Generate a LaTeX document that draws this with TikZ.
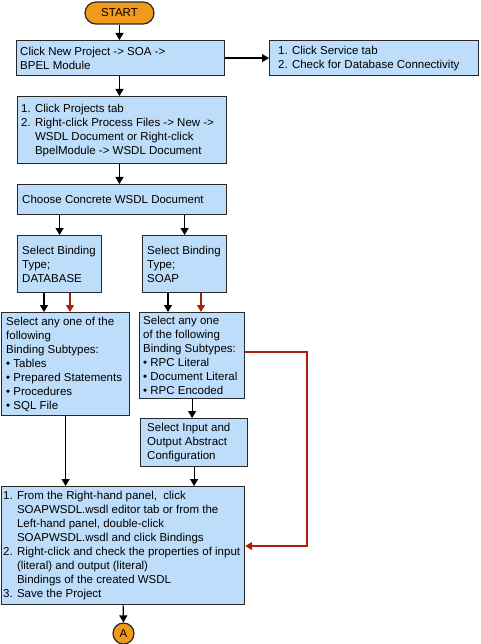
\documentclass[tikz,border=0pt]{standalone}
\usepackage{fontspec}
\setmainfont{Liberation Sans}
\usetikzlibrary{arrows.meta,calc}
\definecolor{boxblue}{RGB}{190,221,250}
\definecolor{startorange}{RGB}{242,153,26}
\definecolor{flowred}{RGB}{170,32,16}
\definecolor{edge}{RGB}{40,40,40}
\tikzset{
  boxnode/.style={draw=edge, fill=boxblue, line width=1.2pt, anchor=north west, inner sep=0pt},
  txt/.style={anchor=west, align=left, inner sep=0pt, font=\fontsize{11.5}{14}\selectfont},
  arr/.style={line width=1.2pt, draw=black, -{Triangle[length=7pt,width=8pt]}},
  redarr/.style={line width=1.2pt, draw=flowred, -{Triangle[length=7pt,width=8pt]}},
}
\newcommand{\ind}{\hphantom{2. }}
\begin{document}
\begin{tikzpicture}[x=1pt,y=-1pt]
\useasboundingbox (0,0) rectangle (480,644);
% start
\node[draw=edge, fill=startorange, line width=1.2pt, rounded corners=11pt, minimum width=69pt, minimum height=22pt, inner sep=0pt, font=\fontsize{11.5}{14}\selectfont] (start) at (119.5,13) {START};
% boxes
\node[boxnode, minimum width=208pt, minimum height=35pt] (b1) at (16,40) {};
\node[txt] (b1t) at ([xshift=4pt]b1.west) {Click New Project -> SOA ->\\BPEL Module};
\node[boxnode, minimum width=209pt, minimum height=35pt] (svc) at (269,40) {};
\node[txt] (svct) at ([xshift=9pt]svc.west) {1. Click Service tab\\2. Check for Database Connectivity};
\node[boxnode, minimum width=209pt, minimum height=67pt] (b2) at (17,96) {};
\node[txt] (b2t) at ([xshift=4pt]b2.west) {1. Click Projects tab\\2. Right-click Process Files -> New ->\\\ind WSDL Document or Right-click\\\ind BpelModule -> WSDL Document};
\node[boxnode, minimum width=209pt, minimum height=30pt] (b3) at (17,184) {};
\node[txt] (b3t) at ([xshift=5pt]b3.west) {Choose Concrete WSDL Document};
\node[boxnode, minimum width=84pt, minimum height=57pt] (db) at (17,235) {};
\node[txt] (dbt) at ([xshift=5pt]db.west) {Select Binding\\Type;\\DATABASE};
\node[boxnode, minimum width=84pt, minimum height=57pt] (soap) at (142,235) {};
\node[txt] (soapt) at ([xshift=5pt]soap.west) {Select Binding\\Type;\\SOAP};
\node[boxnode, minimum width=128pt, minimum height=103pt] (dbsub) at (1,312) {};
\node[txt] (dbsubt) at ([xshift=5pt]dbsub.west) {Select any one of the\\following\\Binding Subtypes:\\• Tables\\• Prepared Statements\\• Procedures\\• SQL File};
\node[boxnode, minimum width=105pt, minimum height=86pt] (soapsub) at (139,312) {};
\node[txt] (soapsubt) at ([xshift=4pt]soapsub.west) {Select any one\\of the following\\Binding Subtypes:\\• RPC Literal\\• Document Literal\\• RPC Encoded};
\node[boxnode, minimum width=107pt, minimum height=48pt] (sel) at (140,418) {};
\node[txt] (selt) at ([xshift=7pt]sel.west) {Select Input and\\Output Abstract\\Configuration};
\node[boxnode, minimum width=243pt, minimum height=118pt] (big) at (1,486) {};
\node[txt] (bigt) at ([xshift=2pt]big.west) {1. From the Right-hand panel,\ \ click\\\ind SOAPWSDL.wsdl editor tab or from the\\\ind Left-hand panel, double-click\\\ind SOAPWSDL.wsdl and click Bindings\\2. Right-click and check the properties of input\\\ind (literal) and output (literal)\\\ind Bindings of the created WSDL\\3. Save the Project};
\node[draw=edge, fill=startorange, line width=1.2pt, circle, minimum size=21pt, inner sep=0pt, font=\fontsize{11.5}{14}\selectfont] (A) at (123.5,633.5) {A};
% connectors
\draw[arr] (start.south) -- (start.south |- b1.north);
\draw[arr] (b1.east) -- (svc.west);
\draw[arr] (b1.south -| start) -- (b2.north -| start);
\draw[arr] (b2.south -| start) -- (b3.north -| start);
\draw[arr] (b3.south -| db.north) -- (db.north);
\draw[arr] (b3.south -| soap.north) -- (soap.north);
\draw[arr] ([xshift=27pt]db.south west) -- ([xshift=27pt]db.south west |- dbsub.north);
\draw[redarr] ([xshift=53pt]db.south west) -- ([xshift=53pt]db.south west |- dbsub.north);
\draw[arr] ([xshift=26pt]soap.south west) -- ([xshift=26pt]soap.south west |- soapsub.north);
\draw[redarr] ([xshift=59pt]soap.south west) -- ([xshift=59pt]soap.south west |- soapsub.north);
\draw[arr] (soapsub.south) -- (soapsub.south |- sel.north);
\coordinate (r1) at (307,352);
\coordinate (r2) at (307,546);
\draw[redarr] (soapsub.east |- r1) -- (r1) -- (r2) -- (big.east |- r2);
\draw[arr] (dbsub.south) -- (dbsub.south |- big.north);
\draw[arr] (sel.south) -- (sel.south |- big.north);
\draw[arr] (big.south) -- (A.north);
\end{tikzpicture}
\end{document}
